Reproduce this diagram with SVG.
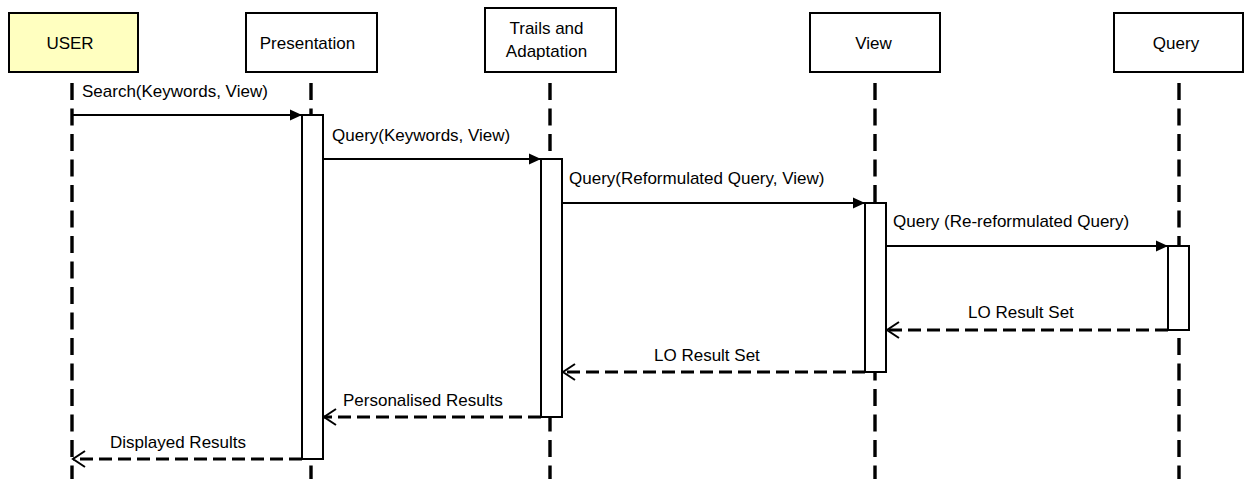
<svg xmlns="http://www.w3.org/2000/svg" width="1244" height="479" viewBox="0 0 1244 479">
<defs>
<style>
.hdr{fill:#ffffff;stroke:#000;stroke-width:2}
.user{fill:#ffffc0}
.life{stroke:#000;stroke-width:3.4;stroke-dasharray:17 8.5;fill:none}
.act{fill:#ffffff;stroke:#000;stroke-width:2}
.msg{stroke:#000;stroke-width:2;fill:none;marker-end:url(#fill)}
.ret{stroke:#000;stroke-width:3.2;stroke-dasharray:13 6;fill:none;marker-end:url(#open)}
text{font-family:"Liberation Sans",Arial,Helvetica,sans-serif;font-size:17px;fill:#000}
.c{text-anchor:middle}
</style>
<marker id="fill" markerUnits="userSpaceOnUse" markerWidth="13" markerHeight="12" refX="12" refY="5.5" orient="auto" overflow="visible">
<path d="M0,0 L12,5.5 L0,11 Z" fill="#000"/>
</marker>
<marker id="open" markerUnits="userSpaceOnUse" markerWidth="14" markerHeight="18" refX="12" refY="8" orient="auto" overflow="visible">
<path d="M0,0 L12,8 L0,16" fill="none" stroke="#000" stroke-width="2"/>
</marker>
</defs>
<g id="lifelines">
<line class="life" x1="72" y1="83" x2="72" y2="479"/>
<line class="life" x1="311" y1="83" x2="311" y2="479"/>
<line class="life" x1="550" y1="83" x2="550" y2="479"/>
<line class="life" x1="875" y1="83" x2="875" y2="479"/>
<line class="life" x1="1179" y1="83" x2="1179" y2="479"/>
</g>
<g id="node-user">
<rect class="hdr user" x="9" y="13" width="129" height="59"/>
<text class="c" x="70" y="49">USER</text>
</g>
<g id="node-presentation">
<rect class="hdr" x="246" y="13" width="131" height="59"/>
<text class="c" x="307.5" y="49">Presentation</text>
</g>
<g id="node-trails">
<rect class="hdr" x="485" y="8" width="131" height="64"/>
<text class="c" x="546.5" y="34">Trails and</text>
<text class="c" x="546.5" y="57">Adaptation</text>
</g>
<g id="node-view">
<rect class="hdr" x="810" y="13" width="130" height="59"/>
<text class="c" x="873.5" y="49">View</text>
</g>
<g id="node-query">
<rect class="hdr" x="1114" y="13" width="129" height="59"/>
<text class="c" x="1176" y="49">Query</text>
</g>
<g id="activations">
<rect class="act" x="302" y="115" width="21" height="344"/>
<rect class="act" x="541" y="159" width="21" height="258"/>
<rect class="act" x="865" y="203" width="21" height="169"/>
<rect class="act" x="1168" y="246" width="21" height="84"/>
</g>
<g id="connectors">
<line class="msg" x1="72" y1="115" x2="302" y2="115"/>
<line class="msg" x1="323" y1="159" x2="541" y2="159"/>
<line class="msg" x1="562" y1="203" x2="865" y2="203"/>
<line class="msg" x1="886" y1="246" x2="1168" y2="246"/>
<line class="ret" x1="1168" y1="330" x2="887" y2="330"/>
<line class="ret" x1="865" y1="372" x2="563" y2="372"/>
<line class="ret" x1="541" y1="417" x2="324" y2="417"/>
<line class="ret" x1="302" y1="459" x2="73" y2="459"/>
</g>
<g id="labels">
<text x="82" y="97">Search(Keywords, View)</text>
<text x="332" y="141">Query(Keywords, View)</text>
<text x="569" y="184">Query(Reformulated Query, View)</text>
<text x="893" y="227">Query (Re-reformulated Query)</text>
<text x="968" y="318">LO Result Set</text>
<text x="654" y="361">LO Result Set</text>
<text x="343" y="406">Personalised Results</text>
<text x="110" y="448">Displayed Results</text>
</g>
</svg>
